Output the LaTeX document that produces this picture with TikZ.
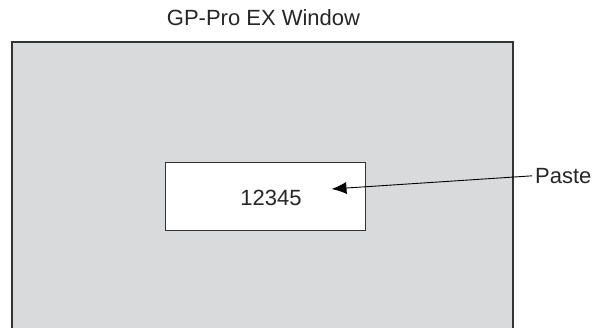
\documentclass[tikz,border=0pt]{standalone}
\usepackage{fontspec}
\setmainfont{Liberation Sans}
\usetikzlibrary{arrows.meta}
\definecolor{winfill}{HTML}{D9DADB}
\definecolor{edge}{HTML}{333333}
\begin{document}
\begin{tikzpicture}[x=1pt,y=1pt,
  lbl/.style={font=\fontsize{22}{26}\selectfont, text=black!85, inner sep=0pt},
  box/.style={draw=edge, line width=1.2pt}]
\useasboundingbox (0,0) rectangle (593,328);
\fill[winfill] (12,0) rectangle (513,286);
\draw[box] (12,-2) -- (12,286) -- (513,286) -- (513,-2);
\node[box, fill=white, minimum width=200pt, minimum height=68pt, anchor=south west, inner sep=0pt] (val) at (164.5,96.5) {};
\node[lbl, anchor=base] (num) at (271,122.5) {12345};
\node[lbl, anchor=base] (title) at (263.5,302) {GP-Pro EX Window};
\node[lbl, anchor=base west] (paste) at (535,144.7) {Paste};
\coordinate (tip) at (331.5,139);
\draw[line width=0.9pt, -{Latex[length=15pt,width=12pt]}] ([xshift=-3pt]paste.west) -- (tip);
\end{tikzpicture}
\end{document}
